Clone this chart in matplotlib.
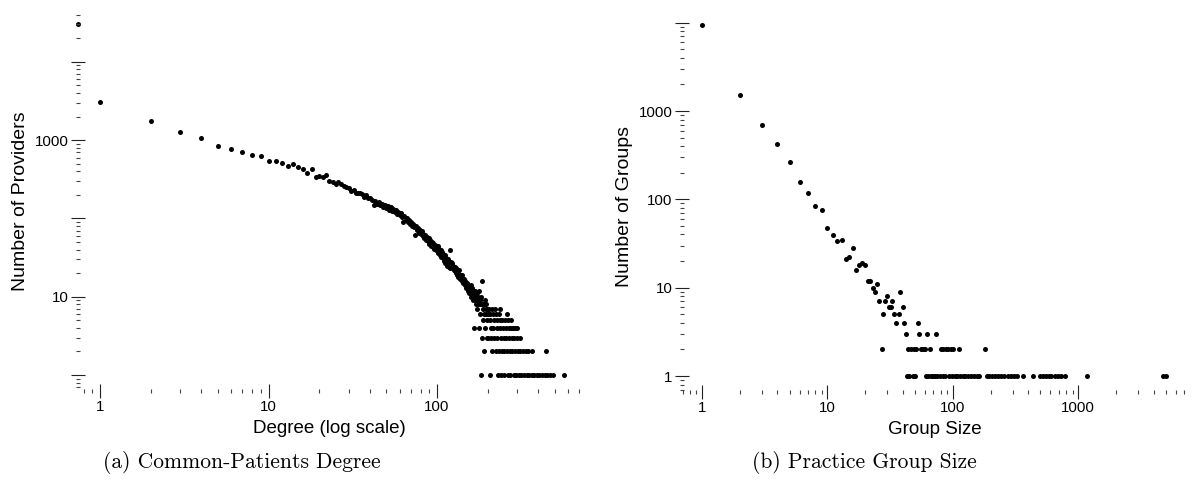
import numpy as np
import matplotlib
matplotlib.use("Agg")
import matplotlib.pyplot as plt
from matplotlib.ticker import FixedLocator, FixedFormatter, LogLocator, NullFormatter

# ---------------- data: (a) common-patients degree ----------------
# first entry is the degree-0 bucket, drawn at the left edge of the log axis
degree_main = [0.74] + list(range(1, 201))
providers_main = [
    30300,
    3080, 1740, 1270, 1060, 838, 767, 700, 643, 625, 540,
    540, 510, 466, 490, 452, 427, 377, 427, 341, 348,
    341, 361, 300, 289, 275, 289, 272, 262, 249, 242,
    226, 232, 209, 214, 209, 205, 190, 198, 183, 185,
    170, 148, 166, 155, 160, 147, 155, 142, 148, 137,
    143, 130, 138, 125, 131, 120, 128, 114, 120, 110,
    116, 104, 91, 106, 96, 101, 90, 95, 85, 90,
    80, 86, 77, 61, 79, 71, 76, 66, 72, 63,
    69, 59, 64, 56, 62, 53, 58, 51, 56, 47,
    53, 45, 50, 43, 48, 41, 46, 39, 44, 40,
    44, 36, 41, 34, 39, 32, 37, 31, 35, 29,
    34, 27, 31, 29, 25, 30, 24, 28, 39, 23,
    28, 24, 27, 23, 25, 22, 24, 21, 23, 20,
    22, 19, 21, 18, 22, 19, 17, 19, 18, 16,
    19, 16, 15, 17, 15, 14, 16, 14, 13, 15,
    13, 12, 14, 11, 12, 13, 11, 14, 12, 10,
    11, 13, 9, 12, 4, 10, 11, 9, 12, 8,
    10, 7, 11, 9, 10, 8, 12, 4, 9, 6,
    8, 1, 10, 16, 8, 3, 5, 7, 8, 2,
    6, 9, 4, 7, 6, 8, 5, 7, 3, 6,
]
# sparse tail (degree > 200): degrees observed for each small provider count
tail_count_7 = [203, 212, 221, 238]
tail_count_6 = [205, 215, 224, 232, 259]
tail_count_5 = [207, 218, 226, 235, 244, 253, 262, 276]
tail_count_4 = [209, 216, 227, 236, 247, 256, 266, 274, 283, 291, 300]
tail_count_3 = [201, 210, 219, 228, 239, 249, 258, 268, 278, 288, 297, 310]
tail_count_2 = [213, 223, 233, 242, 251, 261, 270, 280, 290, 302, 312, 323,
                335, 348, 366, 445]
tail_count_1 = [206, 230, 241, 250, 264, 272, 285, 294, 305, 316, 328, 340,
                352, 365, 378, 392, 405, 420, 435, 452, 470, 488, 567]

# ---------------- data: (b) practice group size ----------------
group_size_main = list(range(1, 36)) + [37, 38, 40, 41, 42, 53, 54, 62, 73]
groups_main = [
    9400, 1535, 701, 427, 265, 158, 117, 83, 76, 48,
    39, 34, 35, 21, 22, 28, 16, 18, 19, 18,
    12, 12, 10, 9, 11, 7, 2, 5, 7, 8,
    6, 6, 7, 5, 4,
    5, 9, 6, 4, 3, 4, 3, 3, 3,
]
sizes_count_2 = [44, 46, 49, 51, 56, 58, 60, 66, 81, 84, 88, 92, 97, 101, 111, 182]
sizes_count_1 = [43, 45, 48, 50, 61, 63, 67, 69, 72, 75, 79, 83, 87, 94, 99,
                 104, 108, 115, 120, 126, 132, 140, 148, 155, 163, 186, 195,
                 205, 216, 230, 244, 258, 273, 290, 305, 324, 361, 434, 500,
                 525, 550, 580, 610, 650, 690, 735, 780, 1170, 4740, 4990]

# ---------------- assemble ----------------
deg_x = list(degree_main)
deg_y = list(providers_main)
for cnt, lst in [(7, tail_count_7), (6, tail_count_6), (5, tail_count_5),
                 (4, tail_count_4), (3, tail_count_3), (2, tail_count_2),
                 (1, tail_count_1)]:
    deg_x += lst
    deg_y += [cnt] * len(lst)

grp_x = list(group_size_main) + sizes_count_2 + sizes_count_1
grp_y = list(groups_main) + [2] * len(sizes_count_2) + [1] * len(sizes_count_1)

# ---------------- figure ----------------
W, H = 1194, 494
fig = plt.figure(figsize=(W / 100, H / 100), dpi=100)
sans = ['Liberation Sans', 'DejaVu Sans']


def px_axes(x0, x1, ytop, ybot):
    return fig.add_axes([x0 / W, (H - ybot) / H, (x1 - x0) / W, (ybot - ytop) / H])


def style(ax, xmaj, xlab, ymaj, ylab):
    for s in ax.spines.values():
        s.set_visible(False)
    ax.set_xscale('log')
    ax.set_yscale('log')
    ax.xaxis.set_major_locator(FixedLocator(xmaj))
    ax.xaxis.set_major_formatter(FixedFormatter(xlab))
    ax.yaxis.set_major_locator(FixedLocator(ymaj))
    ax.yaxis.set_major_formatter(FixedFormatter(ylab))
    ax.xaxis.set_minor_locator(LogLocator(base=10, subs=np.arange(2, 10), numticks=100))
    ax.yaxis.set_minor_locator(LogLocator(base=10, subs=np.arange(2, 10), numticks=100))
    ax.xaxis.set_minor_formatter(NullFormatter())
    ax.yaxis.set_minor_formatter(NullFormatter())
    ax.tick_params(which='major', direction='inout', length=9.5, width=0.8,
                   color='#222222', labelsize=10.8, pad=2)
    ax.tick_params(which='minor', direction='inout', length=3.2, width=0.8,
                   color='#444444')
    for lab in ax.get_xticklabels() + ax.get_yticklabels():
        lab.set_fontfamily(sans)


# (a)
ax1 = px_axes(78, 581.5, 10.7, 391)
ax1.scatter(deg_x, deg_y, s=13, c='black', linewidths=0, clip_on=False)
ax1.set_xlim(0.74, 720)
ax1.set_ylim(0.625, 45000)
style(ax1, [1, 10, 100], ['1', '10', '100'],
      [1, 10, 100, 1000, 10000], ['', '10', '', '1000', ''])
ax1.set_xlabel('Degree (log scale)', fontsize=13.5, family=sans, labelpad=4)
ax1.set_ylabel('Number of Providers', fontsize=14, family=sans, labelpad=4)

# (b)
ax2 = px_axes(682, 1188, 20.1, 392)
ax2.scatter(grp_x, grp_y, s=13, c='black', linewidths=0, clip_on=False)
ax2.set_xlim(0.693, 7500)
ax2.set_ylim(0.659, 10700)
style(ax2, [1, 10, 100, 1000, 10000], ['1', '10', '100', '1000', ''],
      [1, 10, 100, 1000, 10000], ['1', '10', '100', '1000', ''])
ax2.set_xlabel('Group Size', fontsize=13.5, family=sans, labelpad=4)
ax2.set_ylabel('Number of Groups', fontsize=14, family=sans, labelpad=4)

# captions
fig.text(242 / W, 1 - 462 / H, '(a) Common-Patients Degree', family=['cmr10', 'DejaVu Serif'],
         fontsize=15.5, ha='center', va='center')
fig.text(864 / W, 1 - 462 / H, '(b) Practice Group Size', family=['cmr10', 'DejaVu Serif'],
         fontsize=15.5, ha='center', va='center')

fig.savefig('out.png', dpi=100)
